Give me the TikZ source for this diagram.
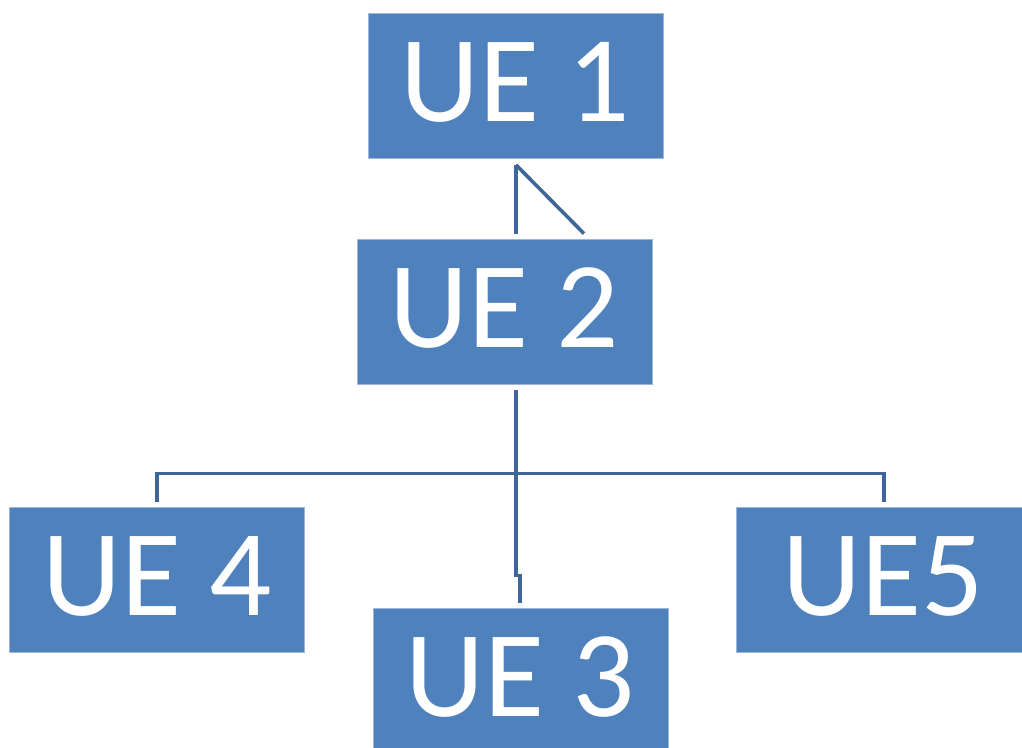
\documentclass[tikz,border=0pt]{standalone}
\usepackage{fontspec}
\setmainfont{Carlito}
\usetikzlibrary{calc}
\definecolor{ueblue}{HTML}{4F81BD}
\definecolor{ueedge}{HTML}{9DB7DA}
\definecolor{uelink}{HTML}{3E6797}
\begin{document}
\begin{tikzpicture}[x=1pt,y=-1pt,
  uebox/.style={rectangle,fill=ueblue,draw=ueedge,line width=0.8pt,
    minimum width=295pt,minimum height=145pt,inner sep=0pt,
    text=white,font=\fontsize{123}{130}\selectfont,
    text height=71pt,text depth=0pt},
  uelinkstyle/.style={draw=uelink,line width=3.6pt}]
\useasboundingbox (0,0) rectangle (1022,747);
\node[uebox] (ue1) at (515.5,86) {UE 1};
\node[uebox] (ue2) at (504.5,311.5) {UE 2};
\node[uebox] (ue4) at (157,579.5) {UE 4};
\node[uebox] (ue3) at (520.5,680.5) {UE 3};
\node[uebox] (ue5) at (883.5,579.5) {UE5};
% UE1 - UE2
\draw[uelinkstyle] ($(ue1.south)+(0.5,6)$) -- ($(ue2.north)+(11.5,-5)$);
\draw[uelinkstyle] ($(ue1.south)+(0.5,6)$) -- ($(ue2.north)+(79.5,-5)$);
% UE2 - UE3
\draw[uelinkstyle] ($(ue2.south)+(11.5,6)$) -- ++(0,185) -| ($(ue3.north)+(-0.5,-5)$);
% bus UE4 - UE5
\draw[uelinkstyle] ($(ue4.north)+(0,-5)$) |- ($(ue2.south)+(11.5,89)$) -| ($(ue5.north)+(0.5,-5)$);
\end{tikzpicture}
\end{document}
